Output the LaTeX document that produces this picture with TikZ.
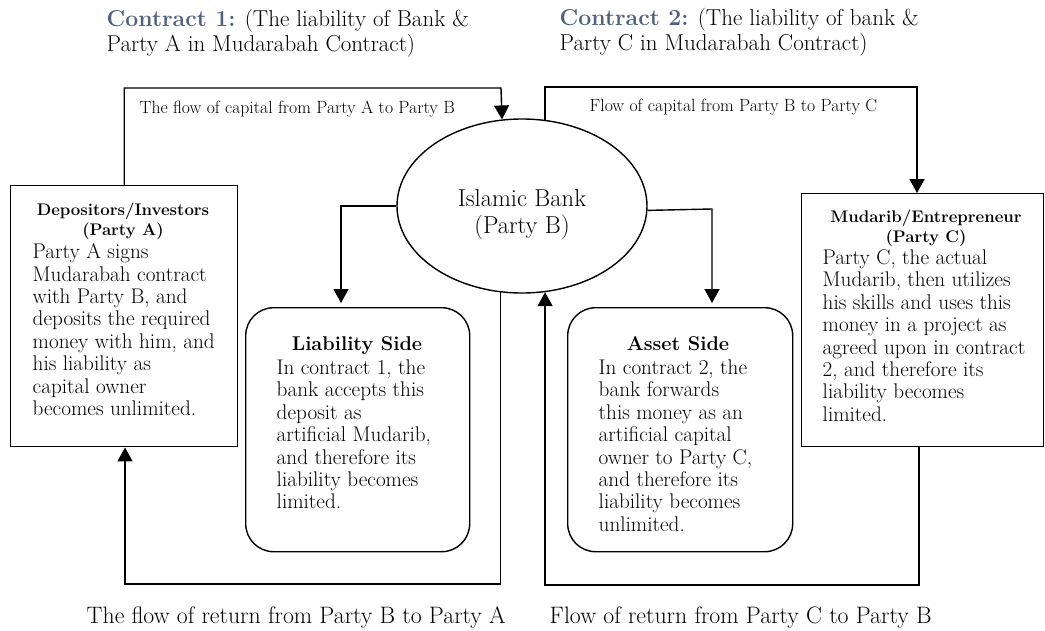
\documentclass[tikz,border=0pt]{standalone}
\usetikzlibrary{shapes.geometric,arrows.meta}
\definecolor{titleblue}{RGB}{79,98,125}
\begin{document}
\begin{tikzpicture}[x=1pt,y=-1pt,line width=1.4pt,
  box/.style={draw,rectangle,inner sep=0pt,anchor=north west},
  rbox/.style={box,rounded corners=28pt},
  arr/.style={-{Triangle[width=15pt,length=14pt]}},
  txt/.style={inner sep=0pt,anchor=north west,align=left},
  body/.style={txt,font=\fontsize{21.2}{22.4}\selectfont},
  head/.style={inner sep=0pt,anchor=north,align=center,font=\fontsize{16.8}{20}\selectfont\bfseries},
  bighead/.style={head,font=\fontsize{19.9}{22}\selectfont\bfseries},
  title/.style={txt,font=\fontsize{23}{25}\selectfont},
  flowtop/.style={txt,font=\fontsize{17.7}{19}\selectfont},
  flowbot/.style={txt,font=\fontsize{23.8}{25}\selectfont}
]
\useasboundingbox (0,0) rectangle (1045,630);

% shapes
\node[box,minimum width=227pt,minimum height=261pt] (pa) at (10,185) {};
\node[box,minimum width=242pt,minimum height=253pt] (pc) at (801,193) {};
\node[rbox,minimum width=224pt,minimum height=244pt] (lia) at (245,307) {};
\node[rbox,minimum width=225pt,minimum height=244pt] (ast) at (567,307) {};
\node[draw,ellipse,inner sep=0pt,minimum width=250pt,minimum height=174pt] (bank) at (522,206) {};

% texts
\node[title] (t1) at (106,9) {\textbf{\color{titleblue}Contract 1:} (The liability of Bank \&\\Party A in Mudarabah Contract)};
\node[title] (t2) at (559,8) {\textbf{\color{titleblue}Contract 2:} (The liability of bank \&\\Party C in Mudarabah Contract)};

\node[txt,anchor=north,align=center,font=\fontsize{24.5}{27}\selectfont] (bankt) at (522,189) {Islamic Bank\\(Party B)};

\node[head] (pah) at (123,202) {Depositors/Investors\\(Party A)};
\node[body] (pab) at (32,243) {Party A signs\\Mudarabah contract\\with Party B, and\\deposits the required\\money with him, and\\his liability as\\capital owner\\becomes unlimited.};

\node[head] (pch) at (926,209) {Mudarib/Entrepreneur\\(Party C)};
\node[body] (pcb) at (822,249) {Party C, the actual\\Mudarib, then utilizes\\his skills and uses this\\money in a project as\\agreed upon in contract\\2, and therefore its\\liability becomes\\limited.};

\node[bighead] (liah) at (357,336) {Liability Side};
\node[body] (liab) at (276,359) {In contract 1, the\\bank accepts this\\deposit as\\artificial Mudarib,\\and therefore its\\liability becomes\\limited.};

\node[bighead] (asth) at (678,336) {Asset Side};
\node[body] (astb) at (598,359) {In contract 2, the\\bank forwards\\this money as an\\artificial capital\\owner to Party C,\\and therefore its\\liability becomes\\unlimited.};

\node[flowtop] (l1) at (139,100) {The flow of capital from Party A to Party B};
\node[flowtop] (l2) at (589,98) {Flow of capital from Party B to Party C};
\node[flowbot] (l3) at (86,606) {The flow of return from Party B to Party A};
\node[flowbot] (l4) at (549,606) {Flow of return from Party C to Party B};

% connectors
\coordinate (c1) at (501,88);
\draw[arr] (pa.north) |- (c1) -- (bank.103.8);

\coordinate (c2) at (917,87);
\draw[arr] (bank.75.6) |- (c2) -- (c2 |- pc.north);

\coordinate (c3) at (341,206);
\draw[arr,shorten >=4pt] (bank.west) -- (c3) -- (c3 |- lia.north);

\coordinate (c4) at (712,209);
\draw[arr,shorten >=4pt] (bank.-2.3) -- (c4) -- (c4 |- ast.north);

\coordinate (c6) at (125,584);
\draw[arr] (bank.256.2) |- (c6) -- (c6 |- pa.south);

\coordinate (c7) at (919,585);
\draw[arr] (c7 |- pc.south) -- (c7) -| (bank.285.1);
\end{tikzpicture}
\end{document}
